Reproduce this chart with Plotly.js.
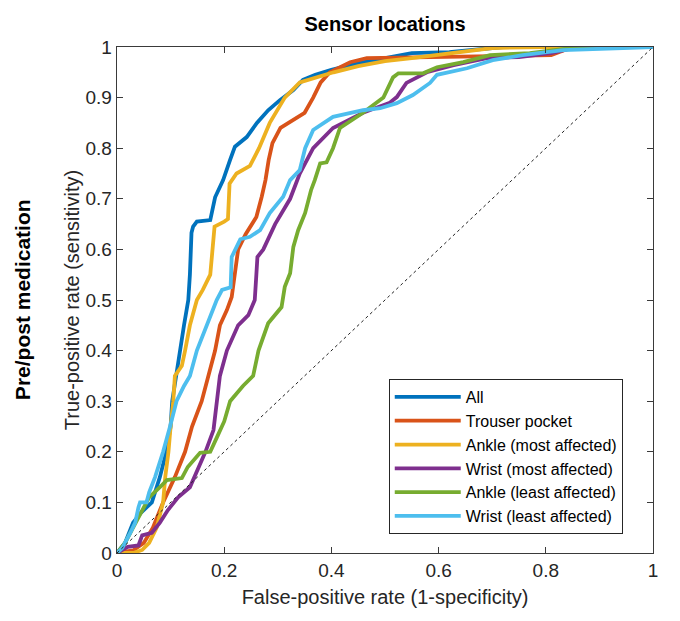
<!DOCTYPE html>
<html>
<head>
<meta charset="utf-8">
<script src="https://cdn.plot.ly/plotly-3.0.1.min.js"></script>
<style>html,body{margin:0;padding:0;background:#fff;}#chart{width:680px;height:621px;}</style>
</head>
<body>
<div id="chart"></div>
<script>
const seriesNames = ["All", "Trouser pocket", "Ankle (most affected)", "Wrist (most affected)", "Ankle (least affected)", "Wrist (least affected)"];
const seriesColors = ["#0072BD", "#D95319", "#EDB120", "#7E2F8E", "#77AC30", "#4DBEEE"];

const allX = [0,0.015,0.03,0.045,0.065,0.08,0.092,0.10,0.103,0.11,0.118,0.125,0.133,0.136,0.139,0.142,0.149,0.174,0.183,0.198,0.211,0.22,0.242,0.261,0.282,0.304,0.329,0.347,0.37,0.40,0.45,0.5,0.55,0.62,0.72,1];
const allY = [0,0.02,0.06,0.08,0.10,0.15,0.2,0.25,0.3,0.35,0.4,0.45,0.5,0.55,0.633,0.645,0.655,0.658,0.703,0.737,0.777,0.803,0.822,0.85,0.875,0.895,0.915,0.935,0.945,0.955,0.968,0.978,0.988,0.99,1,1];

const pocketX = [0,0.03,0.05,0.067,0.086,0.108,0.127,0.14,0.158,0.17,0.183,0.192,0.205,0.214,0.22,0.226,0.24,0.26,0.27,0.277,0.283,0.29,0.305,0.326,0.35,0.366,0.38,0.397,0.435,0.466,0.55,0.7,0.81,0.85,1];
const pocketY = [0,0.005,0.02,0.05,0.10,0.15,0.2,0.25,0.3,0.35,0.4,0.45,0.48,0.506,0.55,0.6,0.63,0.664,0.704,0.737,0.777,0.81,0.84,0.855,0.87,0.9,0.93,0.95,0.97,0.978,0.98,0.982,0.984,1,1];

const ankleMostX = [0,0.03,0.047,0.06,0.074,0.086,0.09,0.096,0.1,0.105,0.108,0.121,0.127,0.136,0.149,0.16,0.174,0.179,0.182,0.2,0.207,0.21,0.223,0.248,0.265,0.285,0.313,0.341,0.37,0.404,0.45,0.5,0.55,0.646,0.7,0.8,1];
const ankleMostY = [0,0.0,0.006,0.02,0.05,0.1,0.15,0.2,0.25,0.3,0.35,0.37,0.4,0.45,0.5,0.52,0.55,0.6,0.645,0.655,0.66,0.73,0.75,0.765,0.8,0.85,0.9,0.93,0.94,0.95,0.962,0.972,0.978,0.99,0.998,1,1];

const wristMostX = [0,0.02,0.04,0.047,0.065,0.08,0.095,0.114,0.136,0.165,0.18,0.187,0.192,0.205,0.226,0.245,0.257,0.26,0.262,0.273,0.295,0.323,0.341,0.366,0.403,0.459,0.509,0.522,0.54,0.58,0.628,0.69,0.75,0.81,0.86,1];
const wristMostY = [0,0.012,0.015,0.035,0.04,0.06,0.085,0.11,0.13,0.2,0.243,0.3,0.35,0.4,0.45,0.47,0.5,0.55,0.585,0.6,0.65,0.7,0.75,0.8,0.84,0.87,0.89,0.901,0.929,0.951,0.964,0.978,0.98,0.988,1,1];

const ankleLeastX = [0,0.015,0.03,0.049,0.06,0.08,0.093,0.121,0.132,0.155,0.174,0.187,0.2,0.211,0.235,0.254,0.264,0.282,0.307,0.313,0.323,0.329,0.338,0.351,0.362,0.369,0.379,0.391,0.403,0.416,0.459,0.497,0.515,0.525,0.571,0.597,0.646,0.696,0.77,0.864,1];
const ankleLeastY = [0,0.02,0.05,0.09,0.11,0.13,0.144,0.148,0.17,0.198,0.2,0.23,0.26,0.3,0.33,0.35,0.4,0.454,0.486,0.526,0.553,0.605,0.638,0.672,0.717,0.737,0.77,0.772,0.8,0.84,0.87,0.9,0.94,0.948,0.948,0.96,0.97,0.984,0.988,1,1];

const wristLeastX = [0,0.01,0.025,0.034,0.04,0.043,0.055,0.06,0.071,0.086,0.099,0.111,0.125,0.136,0.149,0.167,0.186,0.196,0.212,0.214,0.23,0.248,0.267,0.285,0.31,0.323,0.341,0.351,0.366,0.403,0.459,0.491,0.522,0.552,0.584,0.597,0.653,0.701,0.757,0.832,0.98,1];
const wristLeastY = [0,0.01,0.04,0.06,0.09,0.1,0.1,0.12,0.15,0.2,0.25,0.3,0.33,0.35,0.4,0.45,0.5,0.52,0.525,0.585,0.62,0.625,0.638,0.672,0.704,0.737,0.757,0.8,0.836,0.862,0.875,0.879,0.889,0.905,0.929,0.945,0.958,0.974,0.984,0.994,1,1];

const chanceX = [0, 1];
const chanceY = [0, 1];

const xTicks = [0, 0.2, 0.4, 0.6, 0.8, 1];
const xTickText = ["0", "0.2", "0.4", "0.6", "0.8", "1"];
const yTicks = [0, 0.1, 0.2, 0.3, 0.4, 0.5, 0.6, 0.7, 0.8, 0.9, 1];
const yTickText = ["0", "0.1", "0.2", "0.3", "0.4", "0.5", "0.6", "0.7", "0.8", "0.9", "1"];

const xs = [allX, pocketX, ankleMostX, wristMostX, ankleLeastX, wristLeastX];
const ys = [allY, pocketY, ankleMostY, wristMostY, ankleLeastY, wristLeastY];

const traces = xs.map((x, i) => ({
  x: x, y: ys[i], type: "scatter", mode: "lines", name: seriesNames[i],
  line: {color: seriesColors[i], width: 3.8}
}));
traces.push({x: chanceX, y: chanceY, type: "scatter", mode: "lines", showlegend: false,
  line: {color: "#222", width: 1, dash: "3px,3px"}});

const font = "Liberation Sans, Arial, sans-serif";
const axisCommon = {
  showgrid: false, zeroline: false, showline: true, mirror: "ticks", linecolor: "#3a3a3a", linewidth: 1.3,
  ticks: "inside", ticklen: 6, tickcolor: "#3a3a3a", tickwidth: 1,
  tickfont: {family: font, size: 19, color: "#262626"}
};

const layout = {
  width: 680, height: 621,
  margin: {l: 117, r: 27, t: 47, b: 68},
  paper_bgcolor: "#fff", plot_bgcolor: "#fff",
  title: {text: "<b>Sensor locations</b>", font: {family: font, size: 20, color: "#000"}, x: 0.5, xref: "paper", xanchor: "center", y: 0.962, yanchor: "middle"},
  xaxis: Object.assign({}, axisCommon, {range: [0, 1], tickvals: xTicks, ticktext: xTickText,
    title: {text: "False-positive rate (1-specificity)", font: {family: font, size: 20, color: "#262626"}, standoff: 10}}),
  yaxis: Object.assign({}, axisCommon, {range: [0, 1], tickvals: yTicks, ticktext: yTickText,
    title: {text: "True-positive rate (sensitivity)", font: {family: font, size: 20, color: "#262626"}, standoff: 0}}),
  legend: {x: 0.507, y: 0.0375, xanchor: "left", yanchor: "bottom", bgcolor: "#fff", bordercolor: "#262626", borderwidth: 1,
    font: {family: font, size: 16, color: "#000"}, itemwidth: 66, tracegroupgap: 0},
  annotations: [{text: "<b>Pre/post medication</b>", xref: "paper", yref: "paper", x: -0.177, y: 0.5, textangle: -90,
    showarrow: false, font: {family: font, size: 21, color: "#000"}, xanchor: "center", yanchor: "middle"}],
  showlegend: true
};

Plotly.newPlot("chart", traces, layout, {displayModeBar: false, staticPlot: true});
</script>
</body>
</html>
